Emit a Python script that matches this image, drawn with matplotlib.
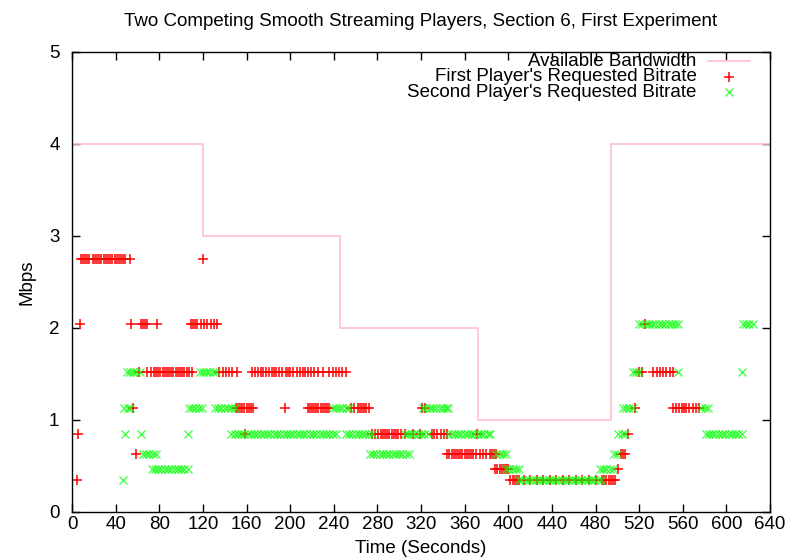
# -*- coding: utf-8 -*-

"""Bitrate requests of two competing Smooth Streaming players"""

import matplotlib
matplotlib.use('Agg')
import matplotlib.pyplot as plt

plt.rc('font', family=['Liberation Sans', 'DejaVu Sans'], size=13.5)
plt.rc('axes', linewidth=1.0)

TITLE = "Two Competing Smooth Streaming Players, Section 6, First Experiment"

# available bandwidth, piecewise constant (seconds -> Mbps)
bw_time = [0, 120, 246, 372, 494, 640]
bw_mbps = [4, 3, 2, 1, 4, 4]

# requested bitrates, grouped by level: {Mbps: [request times in seconds]}
first_player = {
  0.35: [4.5, 402, 404, 406, 408, 410, 414, 420, 426, 432, 438, 444, 450, 456,
         462, 468, 474, 480, 486, 488, 490, 492, 494, 496, 498],
  0.47: [388, 390, 392, 394, 396, 398, 400, 501],
  0.63: [58.5, 344, 346, 348, 350, 352, 354, 356, 358, 360, 362, 364, 366, 368,
         370, 374, 377, 380, 383, 385, 387, 389, 503, 505, 507],
  0.845: [5.5, 159, 275, 278, 281, 283, 285, 287, 289, 291, 293, 295, 297, 299,
          302, 305, 313, 319, 330, 332, 335, 338, 341, 344, 371, 510],
  1.13: [56, 150, 152, 154, 156, 158, 160, 162, 164, 166, 195, 216, 218, 220,
         222, 224, 226, 228, 230, 232, 234, 236, 256, 259, 262, 264, 266, 268,
         270, 272, 321, 324, 516, 551, 554, 557, 559, 561, 563, 566, 569, 572,
         575],
  1.52: [61, 69, 72, 75, 77, 79, 81, 83, 85, 87, 89, 91, 93, 95, 97, 99, 101,
         103, 105, 107, 110, 135, 138, 141, 144, 147, 151, 165, 168, 171, 173,
         175, 178, 181, 183, 185, 187, 190, 193, 196, 198, 200, 203, 206, 209,
         212, 214, 216, 219, 222, 226, 230, 236, 239, 242, 245, 248, 251, 520,
         523, 533, 536, 539, 542, 545, 548, 551],
  2.04: [7, 54, 63, 65, 67, 69, 78, 109, 111, 113, 115, 118, 121, 124, 127,
         130, 133, 525],
  2.75: [8, 10, 12, 14, 16, 19, 21, 23, 25, 27, 29, 31, 33, 35, 37, 39, 41, 43,
         45, 47, 49, 53, 120],
}

second_player = {
  0.35: [47, 410, 413, 416, 419, 422, 425, 428, 431, 434, 437, 440, 443, 446,
         449, 452, 455, 458, 461, 464, 467, 470, 473, 476, 479, 482, 485],
  0.47: [73, 76, 79, 82, 85, 88, 91, 94, 97, 100, 103, 106, 398, 401, 404, 407,
         410, 484, 487, 490, 493, 496],
  0.63: [65, 68, 71, 74, 77, 273, 276, 279, 282, 285, 288, 291, 294, 297, 300,
         303, 306, 309, 389, 392, 395, 398, 497, 500],
  0.845: [48.5, 63, 106, 146, 149, 152, 155, 158, 161, 164, 167, 170, 173, 176,
          179, 182, 185, 188, 191, 194, 197, 200, 203, 206, 209, 212, 215, 218,
          221, 224, 227, 230, 233, 236, 239, 242, 251, 254, 257, 260, 263, 266,
          269, 272, 275, 305, 308, 311, 314, 317, 320, 323, 326, 345, 348, 351,
          354, 357, 360, 363, 366, 369, 372, 375, 378, 381, 383, 501, 504, 507,
          581, 584, 587, 590, 593, 596, 599, 602, 605, 608, 611, 614],
  1.13: [48, 51, 53, 107, 110, 113, 116, 119, 131, 134, 137, 140, 143, 146, 149,
         239, 242, 245, 248, 251, 254, 322, 325, 328, 331, 334, 337, 340, 343,
         345, 505, 508, 511, 514, 577, 580, 583],
  1.52: [50, 53, 56, 59, 62, 117, 120, 123, 126, 129, 132, 514, 517, 520, 556,
         614],
  2.04: [520, 523, 526, 529, 532, 535, 538, 541, 544, 547, 550, 553, 556, 615,
         618, 621, 624],
}

labels = ["Available Bandwidth",
          "First Player's Requested Bitrate",
          "Second Player's Requested Bitrate"]

BW_COLOR = '#ffc0cb'
FIRST_COLOR = '#ff0000'
SECOND_COLOR = '#00ff00'


def flatten(levels):
  xs, ys = [], []
  for mbps in sorted(levels.keys()):
    for t in levels[mbps]:
      xs.append(t)
      ys.append(mbps)
  return xs, ys


def draw_plot(output_filename):
  fig = plt.figure(figsize=(7.89, 5.58), dpi=100)
  ax = fig.add_axes([72/789., 1-512/558., 698/789., 460/558.])

  ax.step(bw_time, bw_mbps, where='post', color=BW_COLOR, linewidth=1.2)

  x1, y1 = flatten(first_player)
  x2, y2 = flatten(second_player)
  ax.plot(x1, y1, linestyle='none', marker='+', markersize=6.5,
          markeredgewidth=1.1, color=FIRST_COLOR)
  ax.plot(x2, y2, linestyle='none', marker='x', markersize=5.5,
          markeredgewidth=1.0, color=SECOND_COLOR, alpha=0.7)

  ax.set_xlim(0, 640)
  ax.set_ylim(0, 5)
  ax.set_xticks(range(0, 641, 40))
  ax.set_yticks(range(0, 6))
  ax.tick_params(direction='in', length=6, width=1.0, top=True, right=True)
  ax.tick_params(axis='x', pad=3)
  ax.tick_params(axis='y', pad=9)

  ax.set_title(TITLE, fontsize=13.5, pad=19)
  ax.set_xlabel("Time (Seconds)", labelpad=5)
  ax.set_ylabel("Mbps", labelpad=10)

  # gnuplot-style key: right aligned text, sample on its right
  text_y = [0.970, 0.936, 0.903]
  tx = 0.895
  for lab, yy in zip(labels, text_y):
    ax.text(tx, yy, lab, transform=ax.transAxes, ha='right', va='baseline')
  ax.plot([0.911, 0.971], [0.980]*2, transform=ax.transAxes,
          color=BW_COLOR, linewidth=1.2, clip_on=False)
  ax.plot([0.941], [0.946], transform=ax.transAxes, linestyle='none',
          marker='+', markersize=6.5, markeredgewidth=1.1, color=FIRST_COLOR)
  ax.plot([0.941], [0.914], transform=ax.transAxes, linestyle='none',
          marker='x', markersize=5.5, markeredgewidth=1.0, color=SECOND_COLOR,
          alpha=0.7)

  plt.savefig(output_filename, dpi=100)
  plt.close(fig)


if __name__ == "__main__":
  draw_plot("out.png")
